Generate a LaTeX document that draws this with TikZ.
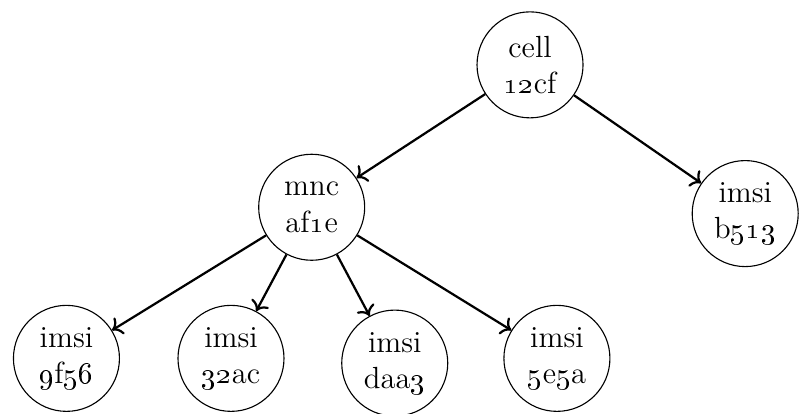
\documentclass[tikz,border=0pt]{standalone}
\usepackage{tikz}
\usetikzlibrary{positioning, arrows.meta}

\begin{document}
\begin{tikzpicture}[
  node distance=2cm, on grid,
  key/.style={circle, draw=black, minimum size=1.34cm, inner sep=0pt, align=center, font=\fontsize{11}{13}\selectfont},
  line/.style={draw, ->, thick}
]
  \useasboundingbox (-6.70,0.82) rectangle (3.40,-4.41);

  \node [key] (cell) {cell\\\oldstylenums{12}cf};
  \node [key, below left=1.80cm and 2.76cm of cell] (mnc) {mnc\\af\oldstylenums{1}e};
  \node [key, below right=1.88cm and 2.72cm of cell] (imsiB) {imsi\\b\oldstylenums{513}};

  \node [key, below left=1.91cm and 3.10cm of mnc] (imsiA) {imsi\\\oldstylenums{9}f\oldstylenums{56}};
  \node [key, below left=1.91cm and 1.02cm of mnc] (imsiC) {imsi\\\oldstylenums{32}ac};
  \node [key, below right=1.97cm and 1.05cm of mnc] (imsiD) {imsi\\daa\oldstylenums{3}};
  \node [key, below right=1.91cm and 3.10cm of mnc] (imsiE) {imsi\\\oldstylenums{5}e\oldstylenums{5}a};

  \draw [line] (cell) -- (mnc);
  \draw [line] (cell) -- (imsiB);

  \draw [line] (mnc) -- (imsiA);
  \draw [line] (mnc) -- (imsiC);
  \draw [line] (mnc) -- (imsiD);
  \draw [line] (mnc) -- (imsiE);
\end{tikzpicture}
\end{document}
